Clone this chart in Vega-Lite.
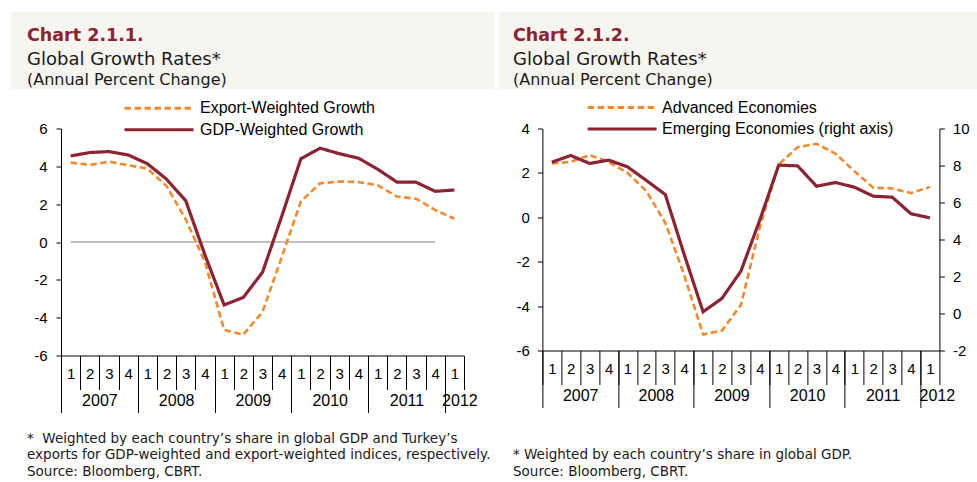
{
  "$schema": "https://vega.github.io/schema/vega-lite/v6.json",
  "background": "white",
  "padding": {"left": 11, "top": 12, "right": 0, "bottom": 0},
  "spacing": 5.5,
  "config": {
    "view": {"stroke": null},
    "font": "Liberation Sans",
    "axis": {"labelFont": "Liberation Sans", "labelFontSize": 15, "labelColor": "#000000", "domainColor": "#000000", "tickColor": "#000000", "grid": false, "title": null, "labelOverlap": false},
    "legend": {"title": null, "orient": "none", "symbolType": "M-3,0H3", "symbolSize": 529, "symbolStrokeWidth": 3, "labelFontSize": 16, "labelFont": "Liberation Sans", "labelColor": "#000000", "labelOffset": 28, "labelLimit": 400, "padding": 0}
  },
  "datasets": {
    "left": [
      {"t": 1, "Export-Weighted Growth": 4.2, "GDP-Weighted Growth": 4.55},
      {"t": 2, "Export-Weighted Growth": 4.07, "GDP-Weighted Growth": 4.73},
      {"t": 3, "Export-Weighted Growth": 4.25, "GDP-Weighted Growth": 4.78},
      {"t": 4, "Export-Weighted Growth": 4.06, "GDP-Weighted Growth": 4.6},
      {"t": 5, "Export-Weighted Growth": 3.88, "GDP-Weighted Growth": 4.14},
      {"t": 6, "Export-Weighted Growth": 2.96, "GDP-Weighted Growth": 3.32},
      {"t": 7, "Export-Weighted Growth": 1.2, "GDP-Weighted Growth": 2.18},
      {"t": 8, "Export-Weighted Growth": -1.05, "GDP-Weighted Growth": -0.68},
      {"t": 9, "Export-Weighted Growth": -4.64, "GDP-Weighted Growth": -3.33},
      {"t": 10, "Export-Weighted Growth": -4.9, "GDP-Weighted Growth": -2.93},
      {"t": 11, "Export-Weighted Growth": -3.7, "GDP-Weighted Growth": -1.6},
      {"t": 12, "Export-Weighted Growth": -0.8, "GDP-Weighted Growth": 1.35},
      {"t": 13, "Export-Weighted Growth": 2.15, "GDP-Weighted Growth": 4.4},
      {"t": 14, "Export-Weighted Growth": 3.1, "GDP-Weighted Growth": 4.96},
      {"t": 15, "Export-Weighted Growth": 3.2, "GDP-Weighted Growth": 4.67},
      {"t": 16, "Export-Weighted Growth": 3.17, "GDP-Weighted Growth": 4.43},
      {"t": 17, "Export-Weighted Growth": 3.0, "GDP-Weighted Growth": 3.85},
      {"t": 18, "Export-Weighted Growth": 2.4, "GDP-Weighted Growth": 3.17},
      {"t": 19, "Export-Weighted Growth": 2.29, "GDP-Weighted Growth": 3.16},
      {"t": 20, "Export-Weighted Growth": 1.69, "GDP-Weighted Growth": 2.68},
      {"t": 21, "Export-Weighted Growth": 1.23, "GDP-Weighted Growth": 2.75}
    ],
    "right": [
      {"t": 1, "Advanced Economies": 2.42, "Emerging Economies (right axis)": 8.18},
      {"t": 2, "Advanced Economies": 2.5, "Emerging Economies (right axis)": 8.54},
      {"t": 3, "Advanced Economies": 2.8, "Emerging Economies (right axis)": 8.11},
      {"t": 4, "Advanced Economies": 2.5, "Emerging Economies (right axis)": 8.29},
      {"t": 5, "Advanced Economies": 2.0, "Emerging Economies (right axis)": 7.93},
      {"t": 6, "Advanced Economies": 1.18, "Emerging Economies (right axis)": 7.19},
      {"t": 7, "Advanced Economies": -0.25, "Emerging Economies (right axis)": 6.43},
      {"t": 8, "Advanced Economies": -2.6, "Emerging Economies (right axis)": 3.19},
      {"t": 9, "Advanced Economies": -5.28, "Emerging Economies (right axis)": 0.09},
      {"t": 10, "Advanced Economies": -5.1, "Emerging Economies (right axis)": 0.82},
      {"t": 11, "Advanced Economies": -3.95, "Emerging Economies (right axis)": 2.29},
      {"t": 12, "Advanced Economies": -0.45, "Emerging Economies (right axis)": 5.05},
      {"t": 13, "Advanced Economies": 2.38, "Emerging Economies (right axis)": 8.02},
      {"t": 14, "Advanced Economies": 3.16, "Emerging Economies (right axis)": 7.98},
      {"t": 15, "Advanced Economies": 3.31, "Emerging Economies (right axis)": 6.88},
      {"t": 16, "Advanced Economies": 2.87, "Emerging Economies (right axis)": 7.08},
      {"t": 17, "Advanced Economies": 2.08, "Emerging Economies (right axis)": 6.83},
      {"t": 18, "Advanced Economies": 1.33, "Emerging Economies (right axis)": 6.34},
      {"t": 19, "Advanced Economies": 1.3, "Emerging Economies (right axis)": 6.29},
      {"t": 20, "Advanced Economies": 1.09, "Emerging Economies (right axis)": 5.39},
      {"t": 21, "Advanced Economies": 1.37, "Emerging Economies (right axis)": 5.17}
    ]
  },
  "vconcat": [
    {
      "spacing": 5,
      "hconcat": [
        {
          "width": 433, "height": 77,
          "data": {"values": [
            {"ln": 1, "txt": "Chart 2.1.1.", "role": "title"},
            {"ln": 2, "txt": "Global Growth Rates*", "role": "sub"},
            {"ln": 3, "txt": "(Annual Percent Change)", "role": "sub2"}
          ]},
          "encoding": {
            "x": {"datum": -0.11547, "type": "quantitative", "scale": {"domain": [0, 1]}, "axis": null},
            "y": {"field": "ln", "type": "quantitative", "scale": {"domain": [-0.06, 3.41], "reverse": true}, "axis": null},
            "text": {"field": "txt"}
          },
          "layer": [
            {"transform": [{"filter": "datum.role == 'title'"}], "mark": {"type": "rect", "fill": "#f7f5f0"},
              "encoding": {"x2": {"datum": 1}, "y": {"datum": -0.06, "type": "quantitative"}, "y2": {"datum": 3.41}}},
            {"transform": [{"filter": "datum.role == 'title'"}], "mark": {"type": "text", "align": "left", "baseline": "middle", "dx": 16, "font": "DejaVu Sans", "fontWeight": "bold", "fontSize": 17.5, "color": "#8c2332"}},
            {"transform": [{"filter": "datum.role == 'sub'"}], "mark": {"type": "text", "align": "left", "baseline": "middle", "dx": 16, "dy": 2, "font": "DejaVu Sans", "fontSize": 18, "color": "#1a1a1a"}},
            {"transform": [{"filter": "datum.role == 'sub2'"}], "mark": {"type": "text", "align": "left", "baseline": "middle", "dx": 16, "font": "DejaVu Sans", "fontSize": 16, "color": "#1a1a1a"}}
          ]
        },
        {
          "width": 437, "height": 77,
          "data": {"values": [
            {"ln": 1, "txt": "Chart 2.1.2.", "role": "title"},
            {"ln": 2, "txt": "Global Growth Rates*", "role": "sub"},
            {"ln": 3, "txt": "(Annual Percent Change)", "role": "sub2"}
          ]},
          "encoding": {
            "x": {"datum": -0.09382, "type": "quantitative", "scale": {"domain": [0, 1]}, "axis": null},
            "y": {"field": "ln", "type": "quantitative", "scale": {"domain": [-0.06, 3.41], "reverse": true}, "axis": null},
            "text": {"field": "txt"}
          },
          "layer": [
            {"transform": [{"filter": "datum.role == 'title'"}], "mark": {"type": "rect", "fill": "#f7f5f0"},
              "encoding": {"x2": {"datum": 1}, "y": {"datum": -0.06, "type": "quantitative"}, "y2": {"datum": 3.41}}},
            {"transform": [{"filter": "datum.role == 'title'"}], "mark": {"type": "text", "align": "left", "baseline": "middle", "dx": 14, "font": "DejaVu Sans", "fontWeight": "bold", "fontSize": 17.5, "color": "#8c2332"}},
            {"transform": [{"filter": "datum.role == 'sub'"}], "mark": {"type": "text", "align": "left", "baseline": "middle", "dx": 14, "dy": 2, "font": "DejaVu Sans", "fontSize": 18, "color": "#1a1a1a"}},
            {"transform": [{"filter": "datum.role == 'sub2'"}], "mark": {"type": "text", "align": "left", "baseline": "middle", "dx": 14, "font": "DejaVu Sans", "fontSize": 16, "color": "#1a1a1a"}}
          ]
        }
      ]
    },
    {
      "spacing": 23.4,
      "resolve": {"scale": {"color": "independent", "strokeDash": "independent"}},
      "hconcat": [
        {
          "width": 403, "height": 227,
          "resolve": {"axis": {"x": "independent"}},
          "layer": [
            {
              "data": {"values": [{"z": 0}]},
              "mark": {"type": "rule", "color": "#c0c0c0", "strokeWidth": 2},
              "encoding": {
                "x": {"datum": 1, "type": "ordinal", "axis": null},
                "x2": {"datum": 20},
                "y": {"field": "z", "type": "quantitative", "scale": {"domain": [-6, 6]},
                  "axis": {"values": [-6, -4, -2, 0, 2, 4, 6], "tickSize": 5, "labelPadding": 9, "labelExpr": "'' + datum.value", "minExtent": 50}}
              }
            },
            {
              "data": {"name": "left"},
              "transform": [{"fold": ["Export-Weighted Growth", "GDP-Weighted Growth"], "as": ["s", "v"]}, {"filter": "datum.s == 'Export-Weighted Growth'"}],
              "mark": {"type": "line", "strokeWidth": 2.6},
              "encoding": {
                "x": {"field": "t", "type": "ordinal", "scale": {"type": "band", "paddingInner": 0, "paddingOuter": 0},
                  "axis": {"orient": "bottom", "tickBand": "extent", "tickSize": 34, "labelExpr": "isValid(datum.value) ? '' + ((datum.value - 1) % 4 + 1) : ''", "labelAngle": 0, "labelBaseline": "middle", "labelPadding": -16}},
                "y": {"field": "v", "type": "quantitative", "scale": {"domain": [-6, 6]},
                  "axis": {"values": [-6, -4, -2, 0, 2, 4, 6], "tickSize": 5, "labelPadding": 9, "labelExpr": "'' + datum.value", "minExtent": 50}},
                "color": {"field": "s", "type": "nominal", "scale": {"domain": ["Export-Weighted Growth", "GDP-Weighted Growth"], "range": ["#f28a30", "#8c2332"]},
                  "legend": {"values": ["Export-Weighted Growth"], "legendX": 85, "legendY": -33.3, "symbolDash": [6.5, 3.5]}},
                "strokeDash": {"field": "s", "type": "nominal", "scale": {"domain": ["GDP-Weighted Growth", "Export-Weighted Growth"], "range": [[1, 0], [6.5, 3.5]]},
                  "legend": {"values": ["GDP-Weighted Growth"], "legendX": 85, "legendY": -11.7, "symbolStrokeColor": "#8c2332"}}
              }
            },
            {
              "data": {"name": "left"},
              "transform": [{"fold": ["Export-Weighted Growth", "GDP-Weighted Growth"], "as": ["s", "v"]}, {"filter": "datum.s == 'GDP-Weighted Growth'"}],
              "mark": {"type": "line", "strokeWidth": 3.2},
              "encoding": {
                "x": {"field": "t", "type": "ordinal", "scale": {"type": "band", "paddingInner": 0, "paddingOuter": 0},
                  "axis": {"orient": "bottom", "domain": false, "values": [1, 5, 9, 13, 17, 21], "tickSize": 57, "tickOffset": -9.6, "labelFontSize": 16, "labelExpr": "isValid(datum.value) ? (datum.value == 21 ? '2012' : '' + (2007 + (datum.value - 1) / 4)) : ''", "labelAngle": 0, "labelOffset": {"condition": {"test": "datum.value == 21", "value": 14.6}, "value": 38.4}, "labelBaseline": "middle", "labelPadding": -12}},
                "y": {"field": "v", "type": "quantitative", "scale": {"domain": [-6, 6]},
                  "axis": {"values": [-6, -4, -2, 0, 2, 4, 6], "tickSize": 5, "labelPadding": 9, "labelExpr": "'' + datum.value", "minExtent": 50}},
                "color": {"field": "s", "type": "nominal", "scale": {"domain": ["Export-Weighted Growth", "GDP-Weighted Growth"], "range": ["#f28a30", "#8c2332"]},
                  "legend": {"values": ["Export-Weighted Growth"], "legendX": 85, "legendY": -33.3, "symbolDash": [6.5, 3.5]}},
                "strokeDash": {"field": "s", "type": "nominal", "scale": {"domain": ["GDP-Weighted Growth", "Export-Weighted Growth"], "range": [[1, 0], [6.5, 3.5]]},
                  "legend": {"values": ["GDP-Weighted Growth"], "legendX": 85, "legendY": -11.7, "symbolStrokeColor": "#8c2332"}}
              }
            }
          ]
        },
        {
          "width": 397, "height": 222,
          "data": {"name": "right"},
          "transform": [{"fold": ["Advanced Economies", "Emerging Economies (right axis)"], "as": ["s", "v"]}],
          "resolve": {"scale": {"y": "independent"}, "axis": {"x": "independent", "y": "independent"}},
          "layer": [
            {
              "transform": [{"filter": "datum.s == 'Advanced Economies'"}],
              "mark": {"type": "line", "strokeWidth": 2.6},
              "encoding": {
                "x": {"field": "t", "type": "ordinal", "scale": {"type": "band", "paddingInner": 0, "paddingOuter": 0},
                  "axis": {"orient": "bottom", "tickBand": "extent", "tickSize": 34, "labelExpr": "isValid(datum.value) ? '' + ((datum.value - 1) % 4 + 1) : ''", "labelAngle": 0, "labelBaseline": "middle", "labelPadding": -16}},
                "y": {"field": "v", "type": "quantitative", "scale": {"domain": [-6, 4]},
                  "axis": {"orient": "left", "values": [-6, -4, -2, 0, 2, 4], "tickSize": 5, "labelPadding": 8, "labelExpr": "'' + datum.value", "minExtent": 41}},
                "color": {"field": "s", "type": "nominal", "scale": {"domain": ["Advanced Economies", "Emerging Economies (right axis)"], "range": ["#f28a30", "#8c2332"]},
                  "legend": {"values": ["Advanced Economies"], "legendX": 66.7, "legendY": -34, "labelOffset": 27, "symbolDash": [6.5, 3.5]}},
                "strokeDash": {"field": "s", "type": "nominal", "scale": {"domain": ["Emerging Economies (right axis)", "Advanced Economies"], "range": [[1, 0], [6.5, 3.5]]},
                  "legend": {"values": ["Emerging Economies (right axis)"], "legendX": 66.7, "legendY": -12.4, "labelOffset": 27, "symbolStrokeColor": "#8c2332"}}
              }
            },
            {
              "transform": [{"filter": "datum.s == 'Emerging Economies (right axis)'"}],
              "mark": {"type": "line", "strokeWidth": 3.2},
              "encoding": {
                "x": {"field": "t", "type": "ordinal", "scale": {"type": "band", "paddingInner": 0, "paddingOuter": 0},
                  "axis": {"orient": "bottom", "domain": false, "values": [1, 5, 9, 13, 17, 21], "tickSize": 57, "tickOffset": -9.45, "labelFontSize": 16, "labelExpr": "isValid(datum.value) ? (datum.value == 21 ? '2012' : '' + (2007 + (datum.value - 1) / 4)) : ''", "labelAngle": 0, "labelOffset": {"condition": {"test": "datum.value == 21", "value": 16.4}, "value": 37.8}, "labelBaseline": "middle", "labelPadding": -12}},
                "y": {"field": "v", "type": "quantitative", "scale": {"domain": [-2, 10]},
                  "axis": {"orient": "right", "values": [-2, 0, 2, 4, 6, 8, 10], "tickSize": 5, "labelPadding": 8, "labelExpr": "'' + datum.value"}},
                "color": {"field": "s", "type": "nominal", "scale": {"domain": ["Advanced Economies", "Emerging Economies (right axis)"], "range": ["#f28a30", "#8c2332"]},
                  "legend": {"values": ["Advanced Economies"], "legendX": 66.7, "legendY": -34, "labelOffset": 27, "symbolDash": [6.5, 3.5]}},
                "strokeDash": {"field": "s", "type": "nominal", "scale": {"domain": ["Emerging Economies (right axis)", "Advanced Economies"], "range": [[1, 0], [6.5, 3.5]]},
                  "legend": {"values": ["Emerging Economies (right axis)"], "legendX": 66.7, "legendY": -12.4, "labelOffset": 27, "symbolStrokeColor": "#8c2332"}}
              }
            }
          ]
        }
      ]
    },
    {
      "spacing": 19,
      "hconcat": [
        {
          "width": 433, "height": 50,
          "data": {"values": [
            {"ln": 1, "txt": "*\u00a0 Weighted by each country’s share in global GDP and Turkey’s"},
            {"ln": 2, "txt": "exports for GDP-weighted and export-weighted indices, respectively."},
            {"ln": 3, "txt": "Source: Bloomberg, CBRT."}
          ]},
          "mark": {"type": "text", "align": "left", "baseline": "middle", "dx": 16, "font": "DejaVu Sans", "fontSize": 13.5, "color": "#1a1a1a"},
          "encoding": {
            "x": {"datum": -0.11547, "type": "quantitative", "scale": {"domain": [0, 1]}, "axis": null},
            "y": {"field": "ln", "type": "quantitative", "scale": {"domain": [-0.19, 2.84], "reverse": true}, "axis": null},
            "text": {"field": "txt"}
          }
        },
        {
          "width": 437, "height": 50,
          "data": {"values": [
            {"ln": 2, "txt": "* Weighted by each country’s share in global GDP."},
            {"ln": 3, "txt": "Source: Bloomberg, CBRT."}
          ]},
          "mark": {"type": "text", "align": "left", "baseline": "middle", "dx": 14, "font": "DejaVu Sans", "fontSize": 13.5, "color": "#1a1a1a"},
          "encoding": {
            "x": {"datum": -0.09382, "type": "quantitative", "scale": {"domain": [0, 1]}, "axis": null},
            "y": {"field": "ln", "type": "quantitative", "scale": {"domain": [-0.19, 2.84], "reverse": true}, "axis": null},
            "text": {"field": "txt"}
          }
        }
      ]
    }
  ]
}
